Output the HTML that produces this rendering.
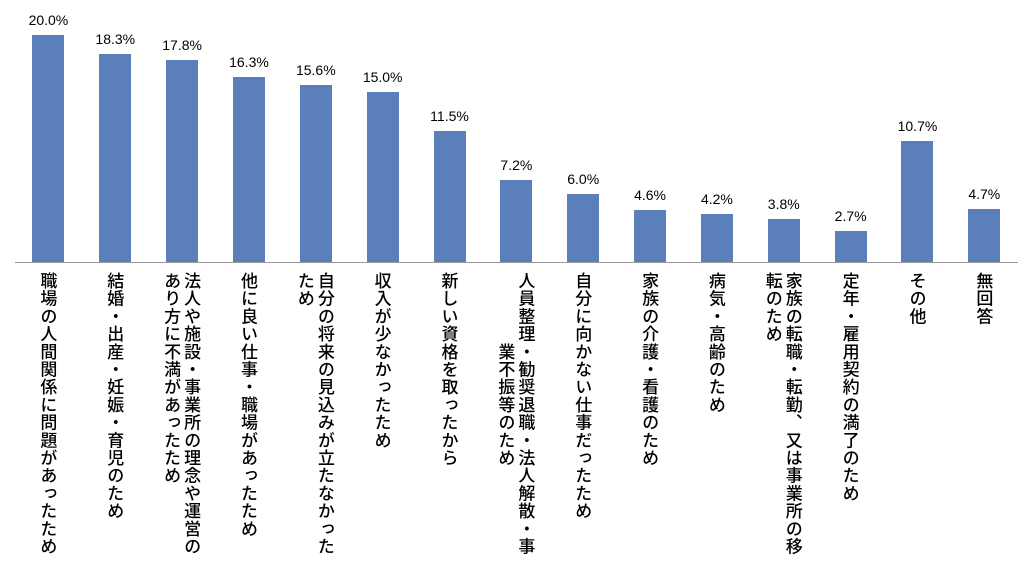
<!DOCTYPE html>
<html><head><meta charset="utf-8"><style>
body{margin:0;width:1024px;height:564px;background:#fff;overflow:hidden;position:relative;font-family:"Liberation Sans","Noto Sans CJK JP",sans-serif}
.bar{position:absolute;background:#5b80b9}
.val{position:absolute;font-size:14px;color:#000;text-align:center;width:60px}
.cat{position:absolute;top:272px;writing-mode:vertical-rl;font-size:17px;line-height:20px;color:#000;letter-spacing:0.7px;font-weight:500;font-family:"Noto Sans CJK JP",sans-serif;white-space:pre}
#axis{position:absolute;left:15px;top:262px;width:1003px;height:1px;background:#999}
</style></head><body>
<div id="axis"></div>
<script>
const categories=["職場の人間関係に問題があったため","結婚・出産・妊娠・育児のため","法人や施設・事業所の理念や運営の\nあり方に不満があったため","他に良い仕事・職場があったため","自分の将来の見込みが立たなかった\nため","収入が少なかったため","新しい資格を取ったから","人員整理・勧奨退職・法人解散・事\n　　　　業不振等のため","自分に向かない仕事だったため","家族の介護・看護のため","病気・高齢のため","家族の転職・転勤、又は事業所の移\n転のため","定年・雇用契約の満了のため","その他","無回答"];
const values=[20.0,18.3,17.8,16.3,15.6,15.0,11.5,7.2,6.0,4.6,4.2,3.8,2.7,10.7,4.7];
const valueLabels=["20.0%","18.3%","17.8%","16.3%","15.6%","15.0%","11.5%","7.2%","6.0%","4.6%","4.2%","3.8%","2.7%","10.7%","4.7%"];
const x0=15,step=66.85,base=262,scale=11.35,bw=32;
function xc(i){return x0+step*(i+0.5);}
function yv(v){return base-v*scale;}
values.forEach((v,i)=>{
 const b=document.createElement('div');
 b.className='bar';
 
 
 b.style.left=(xc(i)-bw/2)+'px';b.style.top=yv(v)+'px';b.style.width=bw+'px';b.style.height=(v*scale)+'px';
 document.body.appendChild(b);
 const t=document.createElement('div');
 t.className='val';
 
 
 t.textContent=valueLabels[i];
 t.style.left=(xc(i)-30)+'px';t.style.top=(yv(v)-23)+'px';
 document.body.appendChild(t);
 const c=document.createElement('div');
 c.className='cat';
 
 
 c.textContent=categories[i];
 document.body.appendChild(c);
 const w=c.offsetWidth;
 c.style.left=(xc(i)-w/2)+'px';
});
</script>
</body></html>
